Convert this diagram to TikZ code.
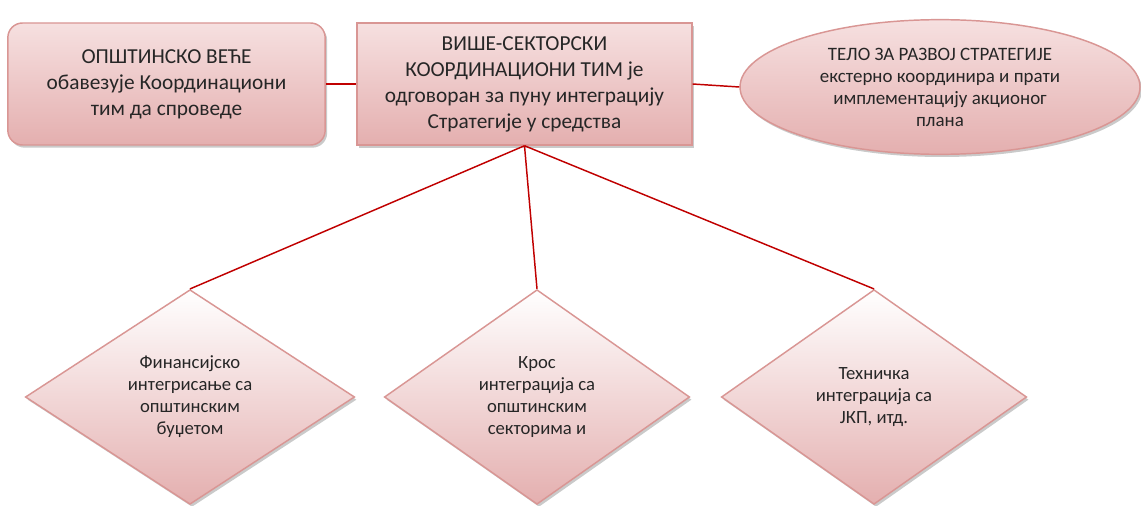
\documentclass[tikz,border=0pt]{standalone}
\usepackage{fontspec}
\setmainfont{Carlito}
\usepackage{xcolor}
\usetikzlibrary{positioning,shapes.geometric,shadows}
\definecolor{red1}{HTML}{C00000}
\definecolor{rose1}{HTML}{D99694}
\definecolor{pink1}{HTML}{E4AFAF}
\definecolor{pink2}{HTML}{F6E0E0}
\definecolor{text1}{HTML}{262626}

\begin{document}
\begin{tikzpicture}[
    x=0.75pt, y=-0.75pt,
    shape1/.style={draw=rose1, line width=1.1pt, text=text1, align=center,
                   inner sep=0pt, top color=pink2, bottom color=pink1,
                   drop shadow={shadow xshift=1.5pt, shadow yshift=-2pt,
                                opacity=0.35, fill=black!60}},
    topbox/.style={shape1, rectangle, minimum height=91.5pt,
                   font=\fontsize{16}{19.5}\selectfont},
    rhomb/.style={shape1, diamond, top color=white, minimum height=161pt,
                  font=\fontsize{14}{16.5}\selectfont},
    conn/.style={red1, line width=1.1pt},
]
\useasboundingbox (0,0) rectangle (1141,506);

% Top row
\node[topbox, rounded corners=11pt, minimum width=238pt] (vece) at (166.5,84)
    {ОПШТИНСКО ВЕЋЕ\\обавезује Координациони\\тим да спроведе};
\node[topbox, minimum width=251pt] (tim) at (524.5,84)
    {ВИШЕ-СЕКТОРСКИ\\КООРДИНАЦИОНИ ТИМ је\\одговоран за пуну интеграцију\\Стратегије у средства};
\node[shape1, ellipse, minimum width=300pt, minimum height=101pt,
      font=\fontsize{14.2}{16.5}\selectfont] (telo) at (940,87)
    {ТЕЛО ЗА РАЗВОЈ СТРАТЕГИЈЕ\\екстерно координира и прати\\имплементацију акционог\\плана};

% Bottom row
\node[rhomb, minimum width=247pt] (fin) at (190,397)
    {Финансијско\\интегрисање са\\општинским\\буџетом};
\node[rhomb, minimum width=229pt] (kros) at (537,397)
    {Крос\\интеграција са\\општинским\\секторима и};
\node[rhomb, minimum width=229pt] (teh) at (874,397)
    {Техничка\\интеграција са\\ЈКП, итд.};

% Connectors
\draw[conn] (vece.east) -- (tim.west);
\draw[conn] (tim.east) -- (telo.west);
\draw[conn] (tim.south) -- (fin.north);
\draw[conn] (tim.south) -- (kros.north);
\draw[conn] (tim.south) -- (teh.north);
\end{tikzpicture}
\end{document}
